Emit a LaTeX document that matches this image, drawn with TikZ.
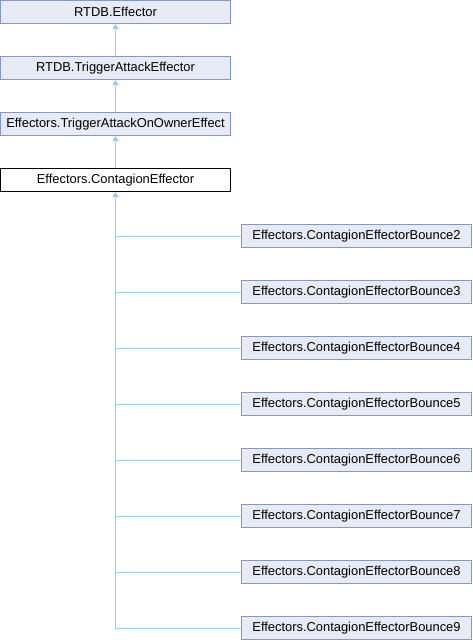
\documentclass[tikz,border=0pt]{standalone}
\usepackage{fontspec}
\setmainfont{Liberation Sans}
\usetikzlibrary{arrows.meta}
\definecolor{boxfill}{HTML}{E6EBF5}
\definecolor{boxline}{HTML}{8497C7}
\definecolor{edgecol}{HTML}{9FCBE6}
\tikzset{
  cls/.style={draw=boxline, fill=boxfill, line width=1pt, minimum width=230pt, minimum height=23pt, inner sep=0pt, font=\fontsize{12.9}{14}\selectfont},
  cur/.style={cls, draw=black, fill=white},
  edge/.style={draw=edgecol, line width=1pt},
  tip/.style={edge, {Triangle[width=6pt,length=5pt,fill=edgecol]}-},
}
\begin{document}
\begin{tikzpicture}[x=1pt,y=-1pt]
\useasboundingbox (0,0) rectangle (472,640);
\node[cls] (e) at (115.5,12) {RTDB.Effector};
\node[cls] (t) at (115.5,68) {RTDB.TriggerAttackEffector};
\node[cls] (o) at (115.5,124) {Effectors.TriggerAttackOnOwnerEffect};
\node[cur] (c) at (115.5,180) {Effectors.ContagionEffector};
\foreach \i [count=\k from 0] in {2,...,9} {
  \node[cls] (b\i) at (356.5,236+56*\k) {Effectors.ContagionEffectorBounce\i};
}
\draw[tip] (e.south) -- (t.north);
\draw[tip] (t.south) -- (o.north);
\draw[tip] (o.south) -- (c.north);
\draw[tip] (c.south) -- (c.south |- b9.west) -- (b9.west);
\foreach \i in {2,...,8} {
  \draw[edge] (c.south |- b\i.west) -- (b\i.west);
}
\end{tikzpicture}
\end{document}
